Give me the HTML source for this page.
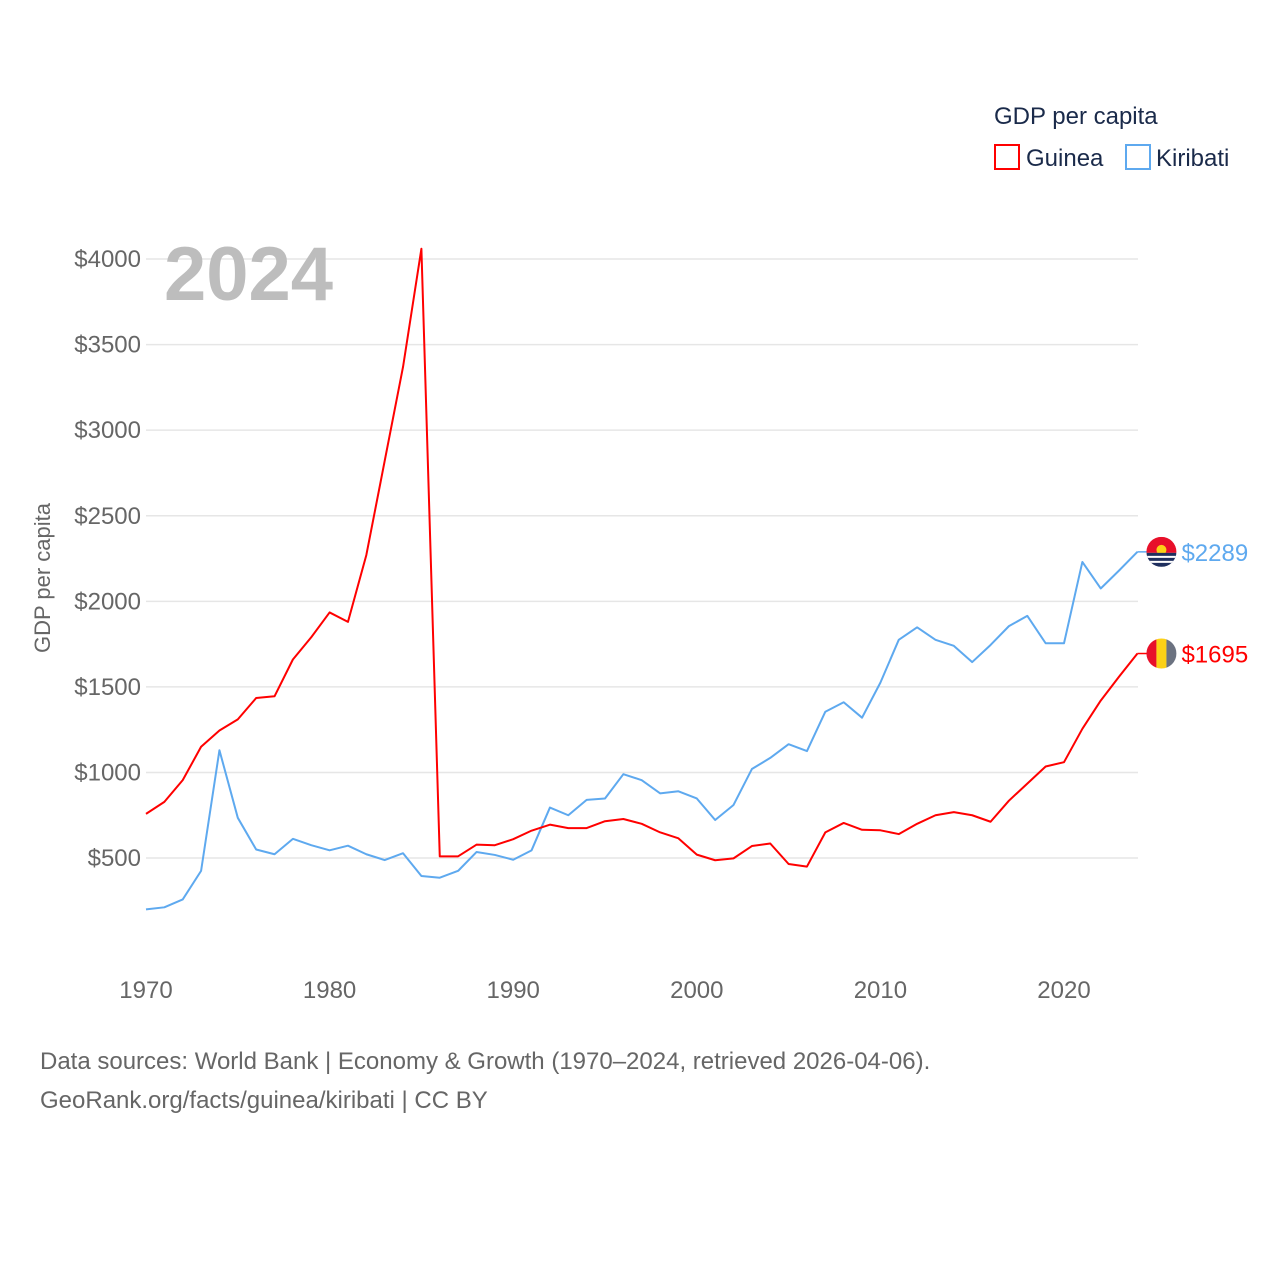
<!DOCTYPE html>
<html><head><meta charset="utf-8"><style>
body{margin:0;background:#fff;font-family:"Liberation Sans",sans-serif}
svg text{font-family:"Liberation Sans",sans-serif}
</style></head><body>
<svg id="chart" width="1280" height="1280" xmlns="http://www.w3.org/2000/svg">
<defs>
<clipPath id="cg"><circle cx="0" cy="0" r="15"/></clipPath>
</defs>
<rect width="1280" height="1280" fill="#fff"/>
<g id="grid"></g><g id="yticks"></g><g id="xticks"></g>
<text x="164" y="300" font-size="76" font-weight="bold" fill="#bdbdbd">2024</text>
<text transform="translate(50,578) rotate(-90)" text-anchor="middle" font-size="22" fill="#666">GDP per capita</text>
<g id="lines"></g>
<text x="994" y="124" font-size="24" fill="#1a2a4a">GDP per capita</text>
<g><rect x="995" y="145" width="24" height="24" fill="none" stroke="#f00" stroke-width="2"/><text x="1026" y="166" font-size="24" fill="#1a2a4a">Guinea</text></g>
<g><rect x="1126" y="145" width="24" height="24" fill="none" stroke="#5ea9ef" stroke-width="2"/><text x="1156" y="166" font-size="24" fill="#1a2a4a">Kiribati</text></g>
<text x="40" y="1069" font-size="24" fill="#666">Data sources: World Bank | Economy &amp; Growth (1970–2024, retrieved 2026-04-06).</text>
<text x="40" y="1108" font-size="24" fill="#666">GeoRank.org/facts/guinea/kiribati | CC BY</text>
</svg>
<script>
const years=[];for(let y=1970;y<=2024;y++)years.push(y);
const guinea=[758,828,955,1150,1245,1310,1435,1445,1660,1790,1935,1880,2270,2820,3370,4060,510,510,578,575,610,660,695,675,675,715,728,700,650,615,520,487,498,570,585,465,450,650,705,665,662,640,700,750,768,750,712,835,935,1035,1060,1255,1420,1560,1695];
const kiribati=[200,212,258,425,1130,735,550,522,612,575,545,572,522,488,528,395,385,425,535,518,490,545,795,750,840,848,990,955,878,890,848,722,810,1020,1085,1165,1125,1355,1410,1320,1525,1775,1848,1775,1740,1645,1745,1855,1915,1755,1755,2230,2075,2180,2289];
const yTicks=[500,1000,1500,2000,2500,3000,3500,4000];
const xTicks=[1970,1980,1990,2000,2010,2020];
const NS="http://www.w3.org/2000/svg";
const X=y=>146+(y-1970)*18.36;
const Y=v=>943.6-v*0.17114;
function mk(t,a,p){const e=document.createElementNS(NS,t);for(const k in a)e.setAttribute(k,a[k]);p.appendChild(e);return e;}
const grid=document.getElementById('grid'),yt=document.getElementById('yticks'),xt=document.getElementById('xticks'),ln=document.getElementById('lines');
yTicks.forEach(v=>{
 const l=mk('line',{x1:146,x2:1138,y1:Y(v),y2:Y(v),stroke:'#e6e6e6','stroke-width':1.5},grid);
 
 
 const t=mk('text',{x:141,y:Y(v)+8,'text-anchor':'end','font-size':24,fill:'#666'},yt);t.textContent='$'+v;
 
 
});
xTicks.forEach(v=>{
 const t=mk('text',{x:X(v),y:998,'text-anchor':'middle','font-size':24,fill:'#666'},xt);t.textContent=v;
 
 
});
function flag(g,name){
 if(name==='guinea'){
  mk('rect',{x:-15,y:-15,width:10,height:30,fill:'#e8102a'},g);
  mk('rect',{x:-5,y:-15,width:10,height:30,fill:'#fcd116'},g);
  mk('rect',{x:5,y:-15,width:10,height:30,fill:'#6b7280'},g);
 }else{
  mk('rect',{x:-15,y:-15,width:30,height:16,fill:'#e8102a'},g);
  mk('circle',{cx:0,cy:-2,r:5,fill:'#fcd116'},g);
  mk('rect',{x:-15,y:1,width:30,height:14,fill:'#1f2f5e'},g);
  mk('rect',{x:-15,y:4,width:30,height:2,fill:'#fff'},g);
  mk('rect',{x:-15,y:9,width:30,height:2,fill:'#fff'},g);
 }
}
function series(vals,color,name){
 const p=mk('polyline',{points:vals.map((v,i)=>X(years[i])+','+Y(v)).join(' '),fill:'none',stroke:color,'stroke-width':2,'stroke-linejoin':'round'},ln);
 
 
 const last=vals[vals.length-1],ly=Y(last),lx=X(years[years.length-1]);
 mk('line',{x1:lx,x2:lx+10,y1:ly,y2:ly,stroke:color,'stroke-width':1.5},ln);
 const g=mk('g',{transform:'translate('+(lx+24)+','+ly+')','clip-path':'url(#cg)'},ln);
 
 
 flag(g,name);
 const t=mk('text',{x:lx+44,y:ly+9,'font-size':24,fill:color},ln);t.textContent='$'+last;
 
 
}
series(kiribati,'#5ea9ef','kiribati');
series(guinea,'#ff0000','guinea');
</script>
</body></html>
